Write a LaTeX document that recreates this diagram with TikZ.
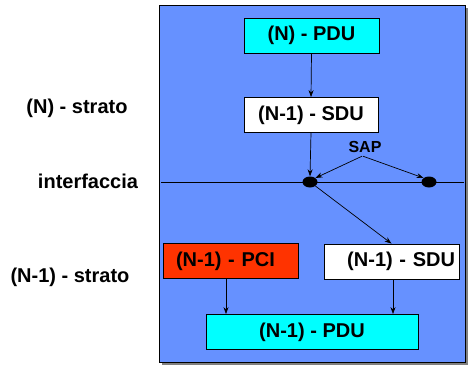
\documentclass[tikz,border=0pt]{standalone}
\usepackage{fontspec}
\setmainfont{Liberation Sans}
\usetikzlibrary{positioning,arrows.meta,shapes.geometric}
\definecolor{panelblue}{RGB}{102,145,255}
\definecolor{pducyan}{RGB}{0,255,255}
\definecolor{pcired}{RGB}{255,51,0}
\definecolor{shadowgray}{RGB}{128,128,128}

\tikzset{
  unitbox/.style={draw=black,line width=0.8pt,minimum height=35,
    font=\bfseries\fontsize{20}{24}\selectfont},
  sidelabel/.style={font=\bfseries\fontsize{20}{24}\selectfont},
  sapdot/.style={ellipse,fill=black,minimum width=15,minimum height=11,inner sep=0pt},
  flow/.style={-{Stealth[length=7pt,width=5pt]},line width=0.7pt}
}

\begin{document}
\begin{tikzpicture}[x=1pt,y=-1pt]
  \useasboundingbox (0,0) rectangle (468,365);
  % panel with shadow
  \fill[shadowgray] (162,8) rectangle (468,365);
  \fill[panelblue,draw=black,line width=0.9pt] (159,5) rectangle (465,362);

  % layer labels
  \node[sidelabel] (lN) at (77,108) {(N) - strato};
  \node[sidelabel] (lIf) at (88,181) {interfaccia};
  \node[sidelabel] (lN1) at (70,277) {(N-1) - strato};

  % interface line
  \coordinate (ifL) at (161,182);
  \coordinate (ifR) at (464,182);
  \draw[line width=0.8pt] (ifL) -- (ifR);

  % units
  \node[unitbox,fill=pducyan,minimum width=135] (npdu) at (311.5,35.5) {(N) - PDU};
  \node[unitbox,fill=white,minimum width=134] (nsdu) at (311,115) {(N-1) - SDU};
  \node[unitbox,fill=pcired,text width=109,inner xsep=13,align=left] (pci) at (230.5,261) {(N-1) - PCI};
  \node[unitbox,fill=white,text width=127,inner xsep=4,align=right] (sdu) at (391.5,261.5) {(N-1) - SDU};
  \node[unitbox,fill=pducyan,minimum width=212] (pdu) at (312,332) {(N-1) - PDU};

  % SAPs
  \node[sapdot] (dotL) at (310,182) {};
  \node[sapdot] (dotR) at (429,182) {};
  \node[font=\bfseries\fontsize{16}{19}\selectfont] (sap) at (365,147) {SAP};

  % arrows
  \draw[flow] (npdu.south) -- (nsdu.north);
  \draw[flow] (nsdu.south) -- (dotL.north);
  \draw[flow] ([xshift=-3pt]sap.south) -- (dotL.north east);
  \draw[flow] ([xshift=-2pt]sap.south) -- (dotR.north west);
  \draw[flow] (dotL.south east) -- (sdu.north);
  \draw[flow] ([xshift=-4.5pt]pci.south) -- ([xshift=-4.5pt]pci.south |- pdu.north);
  \draw[flow] ([xshift=1.5pt]sdu.south) -- ([xshift=1.5pt]sdu.south |- pdu.north);
\end{tikzpicture}
\end{document}
